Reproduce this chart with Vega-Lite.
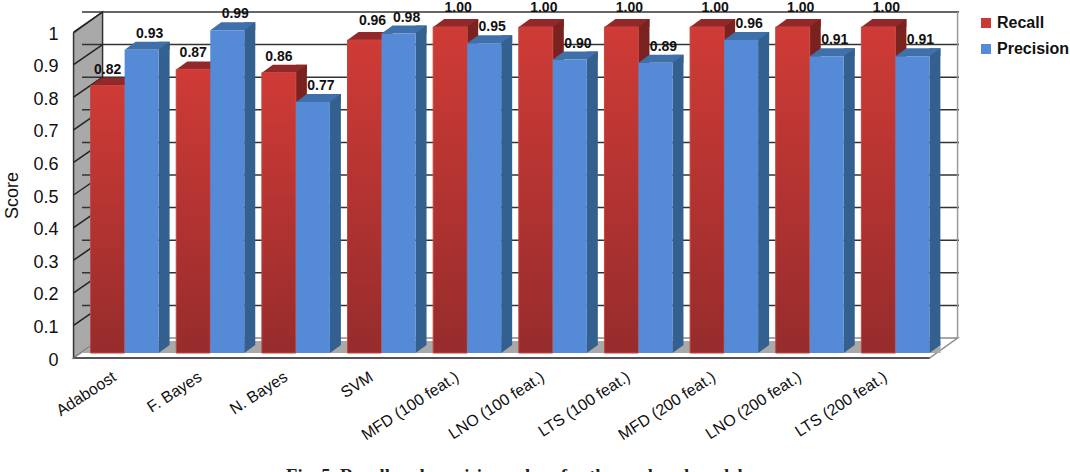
{
"$schema":"https://vega.github.io/schema/vega-lite/v6.json",
"autosize":{"type":"none"},
"padding":{"left":82,"top":27,"right":132,"bottom":119},
"width":856,"height":326,
"background":"white",
"config":{"view":{"stroke":null},"font":"Liberation Sans"},
"data":{"values":[
{"model":"Adaboost","series":"Recall","score":0.82},{"model":"Adaboost","series":"Precision","score":0.93},
{"model":"F. Bayes","series":"Recall","score":0.87},{"model":"F. Bayes","series":"Precision","score":0.99},
{"model":"N. Bayes","series":"Recall","score":0.86},{"model":"N. Bayes","series":"Precision","score":0.77},
{"model":"SVM","series":"Recall","score":0.96},{"model":"SVM","series":"Precision","score":0.98},
{"model":"MFD (100 feat.)","series":"Recall","score":1.0},{"model":"MFD (100 feat.)","series":"Precision","score":0.95},
{"model":"LNO (100 feat.)","series":"Recall","score":1.0},{"model":"LNO (100 feat.)","series":"Precision","score":0.90},
{"model":"LTS (100 feat.)","series":"Recall","score":1.0},{"model":"LTS (100 feat.)","series":"Precision","score":0.89},
{"model":"MFD (200 feat.)","series":"Recall","score":1.0},{"model":"MFD (200 feat.)","series":"Precision","score":0.96},
{"model":"LNO (200 feat.)","series":"Recall","score":1.0},{"model":"LNO (200 feat.)","series":"Precision","score":0.91},
{"model":"LTS (200 feat.)","series":"Recall","score":1.0},{"model":"LTS (200 feat.)","series":"Precision","score":0.91}
]},
"datasets":{"ticks":[{"t":0.1},{"t":0.2},{"t":0.3},{"t":0.4},{"t":0.5},{"t":0.6},{"t":0.7},{"t":0.8},{"t":0.9},{"t":1}],"origin":[{"t":0}]},
"encoding":{
"x":{"field":"model","type":"nominal","sort":null,"title":null,
 "scale":{"domain":["Adaboost","F. Bayes","N. Bayes","SVM","MFD (100 feat.)","LNO (100 feat.)","LTS (100 feat.)","MFD (200 feat.)","LNO (200 feat.)","LTS (200 feat.)"],"paddingInner":0.205,"paddingOuter":0.1},
 "axis":{"domain":false,"ticks":false,"labelAngle":-33,"labelAlign":"right","labelBaseline":"middle","labelFontSize":16,"labelColor":"#111","labelPadding":22,"labelOffset":-10}},
"xOffset":{"field":"series","type":"nominal","scale":{"domain":["Recall","Precision"]}},
"y":{"field":"score","type":"quantitative","scale":{"domain":[0,1],"nice":false,"zero":true},"title":"Score",
 "axis":{"domain":false,"ticks":false,"grid":false,"values":[0,0.1,0.2,0.3,0.4,0.5,0.6,0.7,0.8,0.9,1],"format":"~g","labelFontSize":18,"labelColor":"#111","labelPadding":24,"labelOffset":7,"titleFontSize":18,"titleFontWeight":"normal","titleColor":"#111","titleX":-61,"titleY":168}}
},
"layer":[
{"data":{"name":"origin"},"mark":{"type":"point","filled":true,"opacity":1,"size":4,"fill":"#a9a9a9","stroke":"#333","strokeWidth":1.5,"shape":"M-17,5 L12,-15 L12,-341 L-17,-320 Z"},
 "encoding":{"x":{"datum":"Adaboost","bandPosition":0},"xOffset":null,"y":{"field":"t","type":"quantitative"}}},
{"data":{"name":"ticks"},"mark":{"type":"rule","color":"#333","strokeWidth":1.5,"xOffset":21,"x2Offset":21,"yOffset":-15},
 "encoding":{"x":null,"xOffset":null,"y":{"field":"t","type":"quantitative"}}},
{"data":{"name":"ticks"},"mark":{"type":"point","filled":false,"opacity":1,"size":4,"stroke":"#222","strokeWidth":1.5,"shape":"M-17,5 L12,-15"},
 "encoding":{"x":{"datum":"Adaboost","bandPosition":0},"xOffset":null,"y":{"field":"t","type":"quantitative"}}},
{"data":{"name":"origin"},"mark":{"type":"point","filled":false,"opacity":1,"size":4,"stroke":"#999","strokeWidth":1.5,"shape":"M867,-15 L867,-341"},
 "encoding":{"x":{"datum":"Adaboost","bandPosition":0},"xOffset":null,"y":{"field":"t","type":"quantitative"}}},
{"data":{"name":"origin"},"mark":{"type":"point","filled":true,"opacity":1,"size":4,"fill":"white","stroke":"#8a8a8a","strokeWidth":1.5,"shape":"M-17,5 L12,-15 L867,-15 L839,5 Z"},
 "encoding":{"x":{"datum":"Adaboost","bandPosition":0},"xOffset":null,"y":{"field":"t","type":"quantitative"}}},
{"data":{"name":"origin"},"mark":{"type":"point","filled":true,"opacity":1,"size":4,"fill":"#a9a9a9","strokeWidth":0,"shape":"M-15,4 L9,-12 L850,-12 L850,0 L-9,0 Z"},
 "encoding":{"x":{"datum":"Adaboost","bandPosition":0},"xOffset":null,"y":{"field":"t","type":"quantitative"}}},
{"data":{"name":"origin"},"mark":{"type":"point","filled":false,"opacity":1,"size":4,"stroke":"#555","strokeWidth":2,"shape":"M-17,5 L839,5"},
 "encoding":{"x":{"datum":"Adaboost","bandPosition":0},"xOffset":null,"y":{"field":"t","type":"quantitative"}}},

{"transform":[{"filter":"datum.series==='Recall'"}],"mark":{"type":"rule","strokeWidth":11,"xOffset":5.5,"yOffset":-8,"color":"#7a2220"},"encoding":{"xOffset":null,"y2":{"datum":0.0245}}},
{"transform":[{"filter":"datum.series==='Recall'"}],"mark":{"type":"point","filled":true,"opacity":1,"size":4,"fill":"#7a2220","strokeWidth":0,"shape":"M17,0 L28,-8 L28,0 Z"}},
{"transform":[{"filter":"datum.series==='Recall'"}],"mark":{"type":"point","filled":true,"opacity":1,"size":4,"fill":"#93282a","strokeWidth":0,"shape":"M-17,0 L-6,-8 L28,-8 L17,0 Z"}},
{"transform":[{"filter":"datum.series==='Recall'"}],"mark":{"type":"bar","width":34,"stroke":"#c8453f","strokeWidth":1,"fill":{"gradient":"linear","x1":0,"y1":0,"x2":0,"y2":1,"stops":[{"offset":0,"color":"#cf3b36"},{"offset":1,"color":"#962c2c"}]}}},

{"transform":[{"filter":"datum.series==='Precision'"}],"mark":{"type":"rule","strokeWidth":11,"xOffset":39.5,"yOffset":-8,"color":"#33608f"},"encoding":{"xOffset":null,"y2":{"datum":0.0245}}},
{"transform":[{"filter":"datum.series==='Precision'"}],"mark":{"type":"point","filled":true,"opacity":1,"size":4,"fill":"#33608f","strokeWidth":0,"shape":"M17,0 L28,-8 L28,0 Z"},"encoding":{}},
{"transform":[{"filter":"datum.series==='Precision'"}],"mark":{"type":"point","filled":true,"opacity":1,"size":4,"fill":"#33608f","strokeWidth":0,"shape":"M17,0 L28,-8 L17,-8 Z"},"encoding":{"y":{"datum":0.000001}}},
{"transform":[{"filter":"datum.series==='Precision'"}],"mark":{"type":"point","filled":true,"opacity":1,"size":4,"fill":"#3f70aa","strokeWidth":0,"shape":"M-17,0 L-6,-8 L28,-8 L17,0 Z"}},
{"mark":{"type":"bar","width":34,"stroke":null},
 "transform":[{"filter":"datum.series==='Precision' || datum.series==='Recall' && datum.score<0"}],
 "encoding":{"color":{"field":"series","type":"nominal","scale":{"domain":["Recall","Precision"],"range":["#c93a35","#558ad6"]},
  "legend":{"title":null,"orient":"none","legendX":896,"legendY":-12,"symbolType":"square","symbolSize":100,"symbolOpacity":1,"labelFontSize":16,"labelFontWeight":"bold","labelColor":"#111","rowPadding":10,"labelOffset":3}}}},

{"transform":[{"filter":"datum.series==='Recall' && datum.score<0.95"}],"mark":{"type":"text","fontSize":14,"fontWeight":"bold","color":"#111","dy":-12,"baseline":"alphabetic"},"encoding":{"text":{"field":"score","type":"quantitative","format":".2f"}}},
{"transform":[{"filter":"datum.series==='Recall' && datum.score>=0.95"}],"mark":{"type":"text","fontSize":14,"fontWeight":"bold","color":"#111","dx":8,"dy":-15,"baseline":"alphabetic"},"encoding":{"text":{"field":"score","type":"quantitative","format":".2f"}}},
{"transform":[{"filter":"datum.series==='Precision'"}],"mark":{"type":"text","fontSize":14,"fontWeight":"bold","color":"#111","dx":8,"dy":-12,"baseline":"alphabetic"},"encoding":{"text":{"field":"score","type":"quantitative","format":".2f"}}},

{"data":{"values":[{"t":0,"caption":"Fig. 5.  Recall and precision values for the analyzed models"}]},"mark":{"type":"text","font":"Liberation Serif","fontSize":18.7,"fontWeight":"bold","color":"#222","dx":8,"dy":129,"baseline":"alphabetic"},
 "encoding":{"x":null,"xOffset":null,"y":{"field":"t","type":"quantitative"},"text":{"field":"caption"}}}
]
}
